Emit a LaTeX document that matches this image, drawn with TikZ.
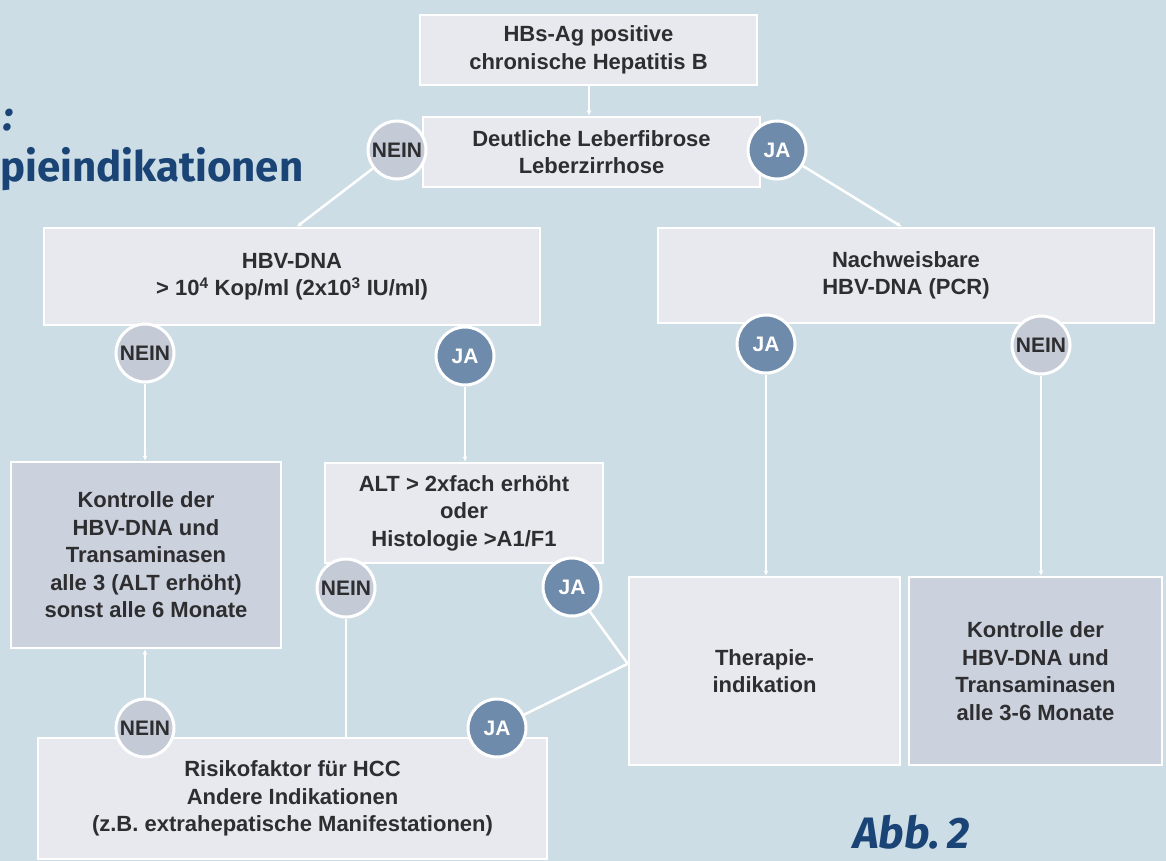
\documentclass[tikz,border=0pt]{standalone}
\usepackage{fontspec}
\setmainfont{Liberation Sans}
\newfontfamily\titlefont{Fira Sans}
\usetikzlibrary{arrows.meta}

\definecolor{bg}{HTML}{CDDDE5}
\definecolor{boxlight}{HTML}{E7E9EF}
\definecolor{boxdark}{HTML}{CBD1DD}
\definecolor{neinfill}{HTML}{C4CAD6}
\definecolor{jafill}{HTML}{6F8BAC}
\definecolor{txt}{HTML}{2E2E30}
\definecolor{titleblue}{HTML}{1A4476}

\tikzset{
  box/.style={draw=white, line width=2.5pt, fill=boxlight, text=txt,
    font=\fontsize{22}{27.5}\selectfont\bfseries, align=center, inner sep=0pt},
  darkbox/.style={box, fill=boxdark},
  circ/.style={circle, draw=white, line width=3pt, minimum size=58pt,
    inner sep=0pt, font=\fontsize{21}{21}\selectfont\bfseries},
  nein/.style={circ, fill=neinfill, text=txt},
  ja/.style={circ, fill=jafill, text=white},
  conn/.style={draw=white, line width=2.5pt},
  tipconn/.style={conn, -{Latex[length=5pt,width=5pt]}},
  title/.style={text=titleblue, inner sep=0pt},
}

\begin{document}
\begin{tikzpicture}[x=1pt, y=-1pt]
  % canvas
  \fill[bg] (0,0) rectangle (1166,861);
  \useasboundingbox (0,0) rectangle (1166,861);

  % heading and figure label
  \node[title, anchor=base east, font=\titlefont\bfseries\itshape\fontsize{42}{42}\selectfont] (t1) at (14,131) {:};
  \node[title, anchor=base west, font=\titlefont\bfseries\fontsize{42}{42}\selectfont] (t2) at (0,182) {pieindikationen};
  \node[title, anchor=base west, font=\titlefont\bfseries\itshape\fontsize{44}{44}\selectfont] (abb) at (853,848) {Abb.\,2};

  % decision and result boxes
  \node[box, minimum width=337pt, minimum height=70pt] (start) at (588.5,50)
    {HBs-Ag positive\\chronische Hepatitis B};
  \node[box, minimum width=337pt, minimum height=70pt] (fib) at (591.5,152)
    {Deutliche Leberfibrose\\Leberzirrhose};
  \node[box, minimum width=496pt, minimum height=97pt] (hbv) at (292,276.5)
    {HBV-DNA\\> 10\textsuperscript{4} Kop/ml (2x10\textsuperscript{3} IU/ml)};
  \node[box, minimum width=496pt, minimum height=95pt] (nach) at (906,275.5)
    {Nachweisbare\\HBV-DNA (PCR)};
  \node[darkbox, minimum width=270pt, minimum height=186pt] (kon1) at (146,555)
    {Kontrolle der\\HBV-DNA und\\Transaminasen\\alle 3 (ALT erhöht)\\sonst alle 6 Monate};
  \node[box, minimum width=278pt, minimum height=100pt] (alt) at (464,513)
    {ALT > 2xfach erhöht\\oder\\Histologie >A1/F1};
  \node[box, minimum width=271pt, minimum height=188pt] (ther) at (764.5,671)
    {Therapie-\\indikation};
  \node[darkbox, minimum width=253pt, minimum height=188pt] (kon2) at (1035.5,671)
    {Kontrolle der\\HBV-DNA und\\Transaminasen\\alle 3-6 Monate};
  \node[box, minimum width=509pt, minimum height=121pt] (risk) at (292.5,798.5)
    {Risikofaktor für HCC\\Andere Indikationen\\(z.B. extrahepatische Manifestationen)};

  % answer markers
  \node[nein] (n1) at (397,150) {NEIN};
  \node[ja]   (j1) at (777,150) {JA};
  \node[nein] (n2) at (145,353) {NEIN};
  \node[ja]   (j2) at (465,356) {JA};
  \node[ja]   (j3) at (766,344) {JA};
  \node[nein] (n3) at (1041,345) {NEIN};
  \node[nein] (n4) at (346,588) {NEIN};
  \node[ja]   (j4) at (572,587) {JA};
  \node[nein] (n5) at (145,728) {NEIN};
  \node[ja]   (j5) at (497,728) {JA};

  % connectors
  \draw[tipconn] (start.south -| 589,0) -- (fib.north -| 589,0);
  \draw[tipconn] (n1) -- ([xshift=254pt]hbv.north west);
  \draw[tipconn] (j1) -- ([xshift=245pt]nach.north west);
  \draw[tipconn] (n2) -- (n2 |- kon1.north);
  \draw[tipconn] (j2) -- (j2 |- alt.north);
  \draw[tipconn] (j3) -- (j3 |- ther.north);
  \draw[tipconn] (n3) -- (n3 |- kon2.north);
  \draw[conn]    (n4) -- (n4 |- risk.north);
  \draw[tipconn] (n5) -- (n5 |- kon1.south);
  \coordinate (tin) at ([yshift=-88pt]ther.north west);
  \draw[conn] (j4) -- (tin);
  \draw[conn] (j5) -- (tin);
\end{tikzpicture}
\end{document}
